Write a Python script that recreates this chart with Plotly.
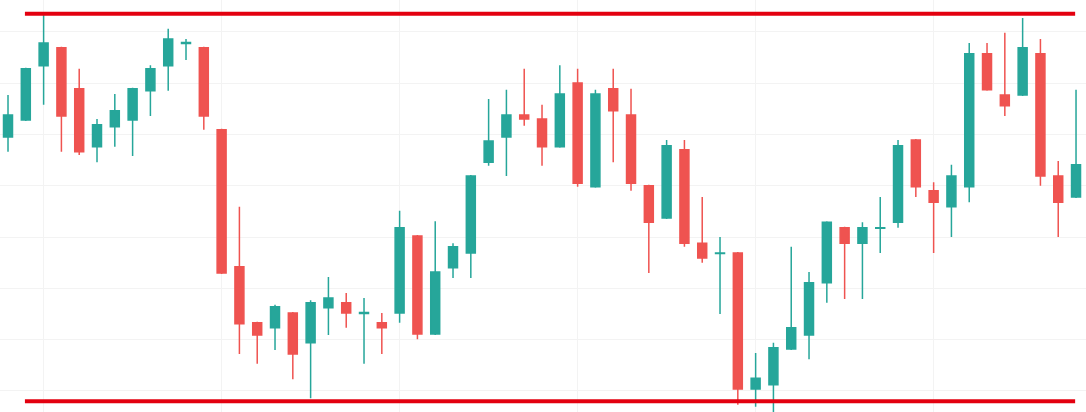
import plotly.graph_objects as go

# candle data, one entry per bar
candle_idx = list(range(61))
opens = [149.5, 152.8, 163.4, 166.9, 158.9, 147.6, 151.5, 152.8, 158.5, 163.4,
         167.7, 166.9, 150.9, 124.2, 113.3, 112.3, 115.2, 109.4, 116.2, 117.2,
         115.1, 113.3, 115.2, 130.2, 111.1, 124.0, 126.9, 144.6, 149.5, 153.8,
         153.0, 147.6, 160.0, 139.8, 158.9, 153.8, 140.0, 133.7, 147.0, 128.8,
         126.8, 126.9, 100.4, 101.2, 108.2, 110.9, 121.1, 131.8, 128.8, 131.7,
         132.9, 148.9, 139.0, 135.9, 139.8, 165.7, 157.7, 157.7, 165.7, 141.9,
         137.8]
highs = [157.7, 163.0, 173.5, 167.1, 162.8, 153.0, 157.9, 159.1, 163.5, 170.6,
         168.6, 167.1, 151.1, 135.9, 113.5, 116.8, 115.4, 117.7, 122.2, 119.1,
         118.1, 115.2, 135.1, 130.4, 133.1, 128.8, 142.1, 156.9, 158.7, 162.8,
         155.8, 163.5, 162.8, 158.7, 162.8, 158.9, 140.2, 148.9, 148.9, 137.8,
         130.0, 127.1, 107.4, 109.4, 128.1, 123.2, 133.1, 132.0, 132.9, 137.8,
         148.9, 149.1, 140.7, 144.1, 167.8, 167.8, 169.8, 172.7, 168.6, 144.8,
         158.7]
lows = [146.6, 152.6, 155.8, 146.6, 146.0, 144.6, 147.6, 145.8, 153.6, 158.5,
        164.5, 150.9, 122.8, 107.2, 105.3, 108.0, 102.3, 98.6, 110.9, 112.3,
        105.3, 107.2, 113.3, 110.1, 110.9, 122.0, 122.0, 143.9, 141.9, 151.7,
        143.9, 147.4, 139.8, 139.6, 144.6, 139.0, 123.0, 133.5, 128.1, 125.0,
        115.0, 97.3, 96.9, 95.8, 108.0, 106.2, 117.2, 117.9, 117.9, 126.9,
        131.8, 137.8, 126.9, 130.0, 136.8, 158.5, 153.6, 157.5, 140.0, 130.0,
        137.6]
closes = [153.8, 162.8, 167.8, 153.6, 146.6, 151.9, 154.6, 158.9, 162.8, 168.6,
          167.9, 153.6, 123.0, 113.1, 110.9, 116.4, 107.2, 117.2, 118.1, 115.2,
          115.3, 112.3, 131.8, 111.1, 123.2, 128.1, 141.9, 148.7, 153.8, 153.0,
          147.6, 157.9, 140.5, 157.9, 154.6, 140.5, 132.9, 147.8, 128.8, 125.9,
          126.9, 100.4, 102.5, 108.4, 112.3, 121.1, 132.9, 128.8, 131.8, 131.8,
          147.8, 139.8, 136.8, 141.9, 165.7, 158.7, 155.6, 166.9, 141.9, 136.8,
          144.1]

# support / resistance levels and the bars they span
resistance_level = 173.5
support_level = 98.0
level_span = [0.95, 59.95]

UP = '#26a69a'
DOWN = '#ef5350'
LEVEL = '#e3000f'

fig = go.Figure()

fig.add_trace(go.Candlestick(
    x=candle_idx, open=opens, high=highs, low=lows, close=closes,
    increasing=dict(line=dict(color=UP, width=1.5), fillcolor=UP),
    decreasing=dict(line=dict(color=DOWN, width=1.5), fillcolor=DOWN),
    whiskerwidth=0,
    showlegend=False,
))

# horizontal levels
for level in (resistance_level, support_level):
    fig.add_trace(go.Scatter(
        x=level_span, y=[level, level], mode='lines',
        line=dict(color=LEVEL, width=4),
        hoverinfo='skip', showlegend=False,
    ))

fig.update_layout(
    width=1086, height=412,
    margin=dict(l=0, r=0, t=0, b=0),
    paper_bgcolor='white', plot_bgcolor='white',
    boxgap=0.28,
    showlegend=False,
)
fig.update_xaxes(
    range=[-0.45, 60.56], rangeslider_visible=False,
    showgrid=True, gridcolor='#f3f3f3', gridwidth=1,
    tick0=2, dtick=10, showticklabels=False, zeroline=False,
)
fig.update_yaxes(
    range=[95.9, 176.2],
    showgrid=True, gridcolor='#f3f3f3', gridwidth=1,
    tick0=100, dtick=10, showticklabels=False, zeroline=False,
)

fig.write_html("out.html", config={'displayModeBar': False},
               post_script="document.body.style.margin='0';")
